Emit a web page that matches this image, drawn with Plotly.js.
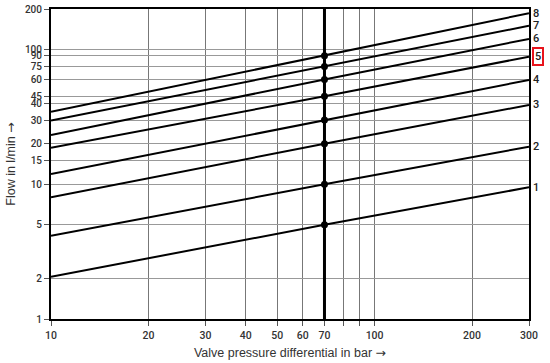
<!DOCTYPE html>
<html>
<head>
<meta charset="utf-8">
<script src="https://cdn.plot.ly/plotly-3.0.1.min.js"></script>
<style>html,body{margin:0;padding:0;background:#fff;}#chart{width:550px;height:363px;}</style>
</head>
<body>
<div id="chart"></div>
<script>
// Data
const curveLabels = ['1', '2', '3', '4', '5', '6', '7', '8'];
const pressureEnds = [10, 300];
const flowAt10 = [2.06, 4.15, 8.0, 11.9, 18.7, 23.2, 29.7, 34.6];
const flowAt300 = [9.5, 19.0, 38.8, 59.5, 88.5, 120, 150, 186];
const refPressure = 70;
const flowAtRef = [5, 10, 20, 30, 45, 60, 75, 90];
const highlightedCurve = '5';

const xTickVals = [10, 20, 30, 40, 50, 60, 70, 80, 90, 100, 200, 300];
const xTickText = ['10', '20', '30', '40', '50', '60', '70', '', '', '100', '200', '300'];
const yTickVals = [1, 2, 5, 10, 15, 20, 30, 40, 45, 60, 75, 90, 100, 200];

const tickFam = 'Roboto, "Noto Sans", sans-serif';
const titleFam = '"Liberation Sans", Arial, sans-serif';
const arrow = '<span style="font-family:DejaVu Sans">→</span>';
const traces = [];
curveLabels.forEach((lab, i) => {
  traces.push({
    x: [pressureEnds[0], refPressure, pressureEnds[1]],
    y: [flowAt10[i], flowAtRef[i], flowAt300[i]],
    mode: 'lines', line: {color: '#000', width: 2},
    hoverinfo: 'skip', showlegend: false
  });
});
traces.push({
  x: flowAtRef.map(() => refPressure), y: flowAtRef,
  mode: 'markers', marker: {color: '#000', size: 7},
  showlegend: false, hoverinfo: 'skip'
});

const annotations = curveLabels.map((lab, i) => ({
  x: Math.log10(pressureEnds[1]), y: Math.log10(flowAt300[i]),
  xref: 'x', yref: 'y', text: lab, showarrow: false,
  xanchor: 'left', yanchor: 'middle', xshift: 3,
  font: {family: tickFam, size: 11, color: '#222', weight: 500},
  bordercolor: lab === highlightedCurve ? '#e8141c' : 'rgba(0,0,0,0)',
  borderwidth: lab === highlightedCurve ? 2 : 0, borderpad: 1
}));

const layout = {
  width: 550, height: 363,
  margin: {l: 51, r: 21, t: 9, b: 44},
  paper_bgcolor: '#fff', plot_bgcolor: '#fff',
  font: {family: tickFam, size: 11, color: '#333'},
  xaxis: {
    type: 'log', range: [1, Math.log10(300)],
    tickmode: 'array', tickvals: xTickVals, ticktext: xTickText,
    showgrid: true, gridcolor: '#777', gridwidth: 1,
    showline: true, linecolor: '#000', linewidth: 2, mirror: true,
    ticks: 'outside', ticklen: 5, tickcolor: '#555', tickwidth: 1,
    tickfont: {family: tickFam, size: 10.5, color: '#333', weight: 500},
    zeroline: false,
    title: {text: 'Valve pressure differential in bar ' + arrow, standoff: 8,
      font: {family: titleFam, size: 12.5, color: '#333'}}
  },
  yaxis: {
    type: 'log', range: [0, Math.log10(200)],
    tickmode: 'array', tickvals: yTickVals, ticktext: yTickVals.map(String),
    showgrid: true, gridcolor: '#999', gridwidth: 1,
    showline: true, linecolor: '#000', linewidth: 2, mirror: true,
    ticks: 'outside', ticklen: 5, tickcolor: '#555', tickwidth: 1,
    tickfont: {family: tickFam, size: 10, color: '#333', weight: 500},
    zeroline: false,
    title: {text: 'Flow in l/min ' + arrow, standoff: 7,
      font: {family: titleFam, size: 12.5, color: '#333'}}
  },
  shapes: [{
    type: 'line', xref: 'x', yref: 'paper',
    x0: refPressure, x1: refPressure, y0: 0, y1: 1,
    line: {color: '#000', width: 3}
  }],
  annotations: annotations
};

Plotly.newPlot('chart', traces, layout, {displayModeBar: false, staticPlot: true});
</script>
</body>
</html>
